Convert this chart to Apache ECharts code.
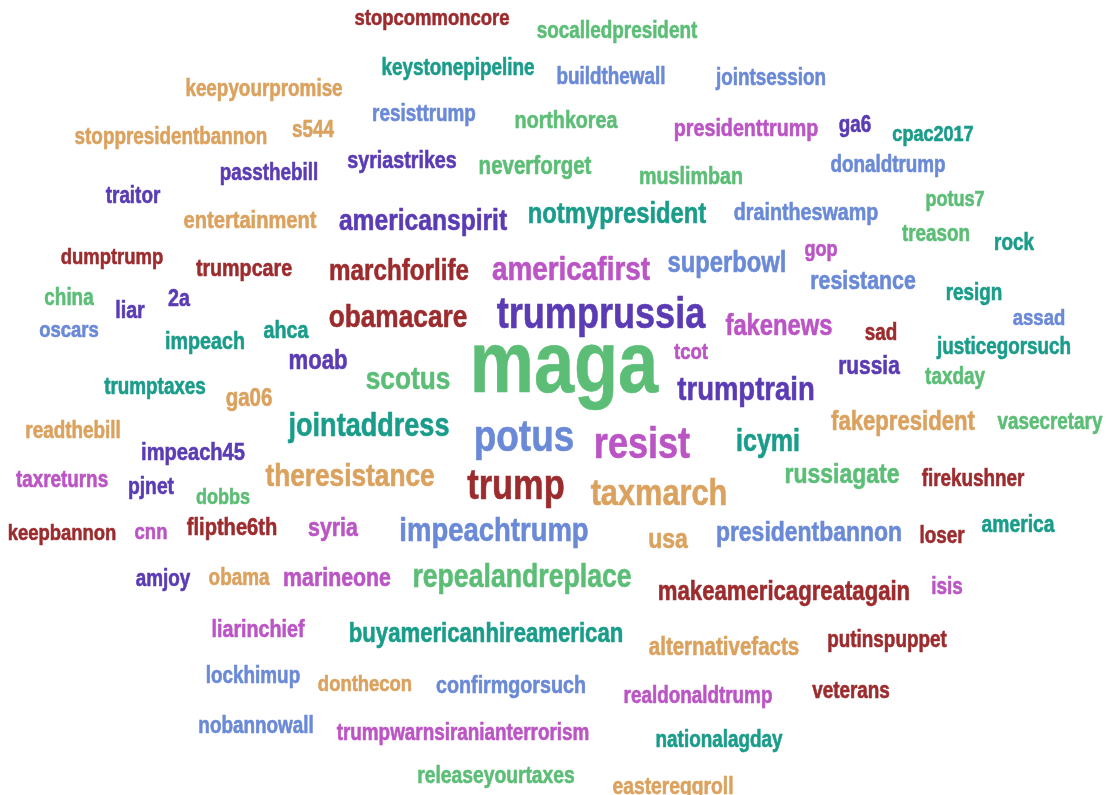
<!DOCTYPE html>
<html><head><meta charset="utf-8">
<script src="https://cdn.jsdelivr.net/npm/echarts@6/dist/echarts.min.js"></script>
<style>html,body{margin:0;padding:0;background:#fff}#c{width:1107px;height:795px}</style>
</head><body><div id="c"></div>
<script>
// Word-cloud terms
const words = ["stopcommoncore","socalledpresident","keystonepipeline","buildthewall","jointsession","keepyourpromise","resisttrump","northkorea","presidenttrump","ga6","cpac2017","stoppresidentbannon","s544","syriastrikes","neverforget","muslimban","donaldtrump","passthebill","traitor","potus7","entertainment","americanspirit","notmypresident","draintheswamp","treason","rock","dumptrump","trumpcare","marchforlife","americafirst","superbowl","gop","resistance","resign","china","liar","2a","obamacare","trumprussia","fakenews","sad","assad","oscars","ahca","impeach","justicegorsuch","moab","maga","tcot","russia","scotus","trumptrain","taxday","trumptaxes","ga06","fakepresident","vasecretary","readthebill","jointaddress","potus","resist","icymi","impeach45","theresistance","trump","taxmarch","russiagate","firekushner","taxreturns","pjnet","dobbs","keepbannon","cnn","flipthe6th","syria","impeachtrump","usa","presidentbannon","loser","america","amjoy","obama","marineone","repealandreplace","makeamericagreatagain","isis","liarinchief","buyamericanhireamerican","alternativefacts","putinspuppet","lockhimup","donthecon","confirmgorsuch","realdonaldtrump","veterans","nobannowall","trumpwarnsiranianterrorism","nationalagday","releaseyourtaxes","eastereggroll"];
// Word weights (rendered as font size)
const weights = [22.5,23,23,23,23,23,23,24,24,23,22,23,23,24,25,24,23,23,23,22,24.5,30,29,24,23,23,22.5,24,29.5,34,29,22,26,23,23,24,24,32,44,29,23,22.5,22.5,24,24,23,27,88,22.5,25.5,32,33.5,23,23,25,27,23,23,33,45,44,30.5,24.5,32,42,37.5,28,23,23,23.5,22,22.5,22.5,24.5,26,33.5,28,28,23,23.5,23,23,26,32.5,27,23,24,27,25,23,23,22.5,24,23,23,23,23,23,23.5,23.5];
// Cloud layout positions (word centres, in chart units)
const posX = [432,617,458,611,771,264,424,566,746,855,933,171,313,402,535,691,888,269,133,955,250,423,617,806,936,1014,112,244,399,571,727,821,863,974,69,130,179,398,601,779,881,1039,69,286,205,1004,318,564,691,869,408,746,955,155,249,903,1050,73,369,524,642,768,193,350,516,659,842,973,62,151,223,62,151,232,333,494,668,809,942,1018,163,239,337,522,784,947,258,486,724,887,253,365,511,698,851,256,463,719,496,673];
const posY = [17,30,67,76,77,88,113,120,128,124,133,136,129,160,165,176,164,172,195,198,220,220,213,212,233,242,256,268,270,268,262,248,280,292,297,310,298,316,313,325,332,317,329,330,341,346,360,362,351,365,378,388,376,386,397,421,421,430,425,435,443,440,452,475,484,492,473,478,479,486,496,532,531,527,527,529,538,531,535,524,578,577,577,576,591,586,629,633,646,639,675,683,685,695,690,725,732,739,775,786];
// Colour group of each word
const groups = ["R","G","T","B","B","O","B","G","M","P","T","O","O","P","G","G","B","P","P","G",
  "O","P","T","B","G","T","R","R","R","M","B","M","B","T","G","P","P","R","P","M",
  "R","B","B","T","T","T","P","G","M","P","G","P","G","T","O","O","G","O","T","B",
  "M","T","P","O","R","O","G","R","M","P","G","R","M","R","M","B","O","B","R","T",
  "P","O","M","G","R","M","M","T","O","R","B","O","B","M","R","B","M","T","G","O"];
const palette = {R:"#9c2b2e",G:"#5cbe76",T:"#1a9c8a",B:"#6a89d6",O:"#dba25f",P:"#5a3bb4",M:"#bb54c4"};

const data = words.map((w,i)=>[posX[i],posY[i],i]);

const chart = echarts.init(document.getElementById('c'));
chart.setOption({
  animation:false,
  grid:{left:0,right:0,top:0,bottom:0},
  xAxis:{type:'value',min:0,max:1107,show:false},
  yAxis:{type:'value',min:0,max:795,inverse:true,show:false},
  series:[{
    type:'custom', data:data, silent:true,
    renderItem:function(params, api){
      const i = api.value(2);
      const fs = weights[i];
      const p = api.coord([api.value(0), api.value(1)]);
      const col = palette[groups[i]];
      return {type:'text', x:p[0], y:p[1] + fs*0.07, scaleX:0.82, scaleY:1,
        style:{text:words[i], fill:col, stroke:col, lineWidth:0.6, fontSize:fs, fontWeight:'bold',
          fontFamily:'"Liberation Sans", Arial, sans-serif', align:'center', verticalAlign:'middle'}};
    }
  }]
});
</script></body></html>
